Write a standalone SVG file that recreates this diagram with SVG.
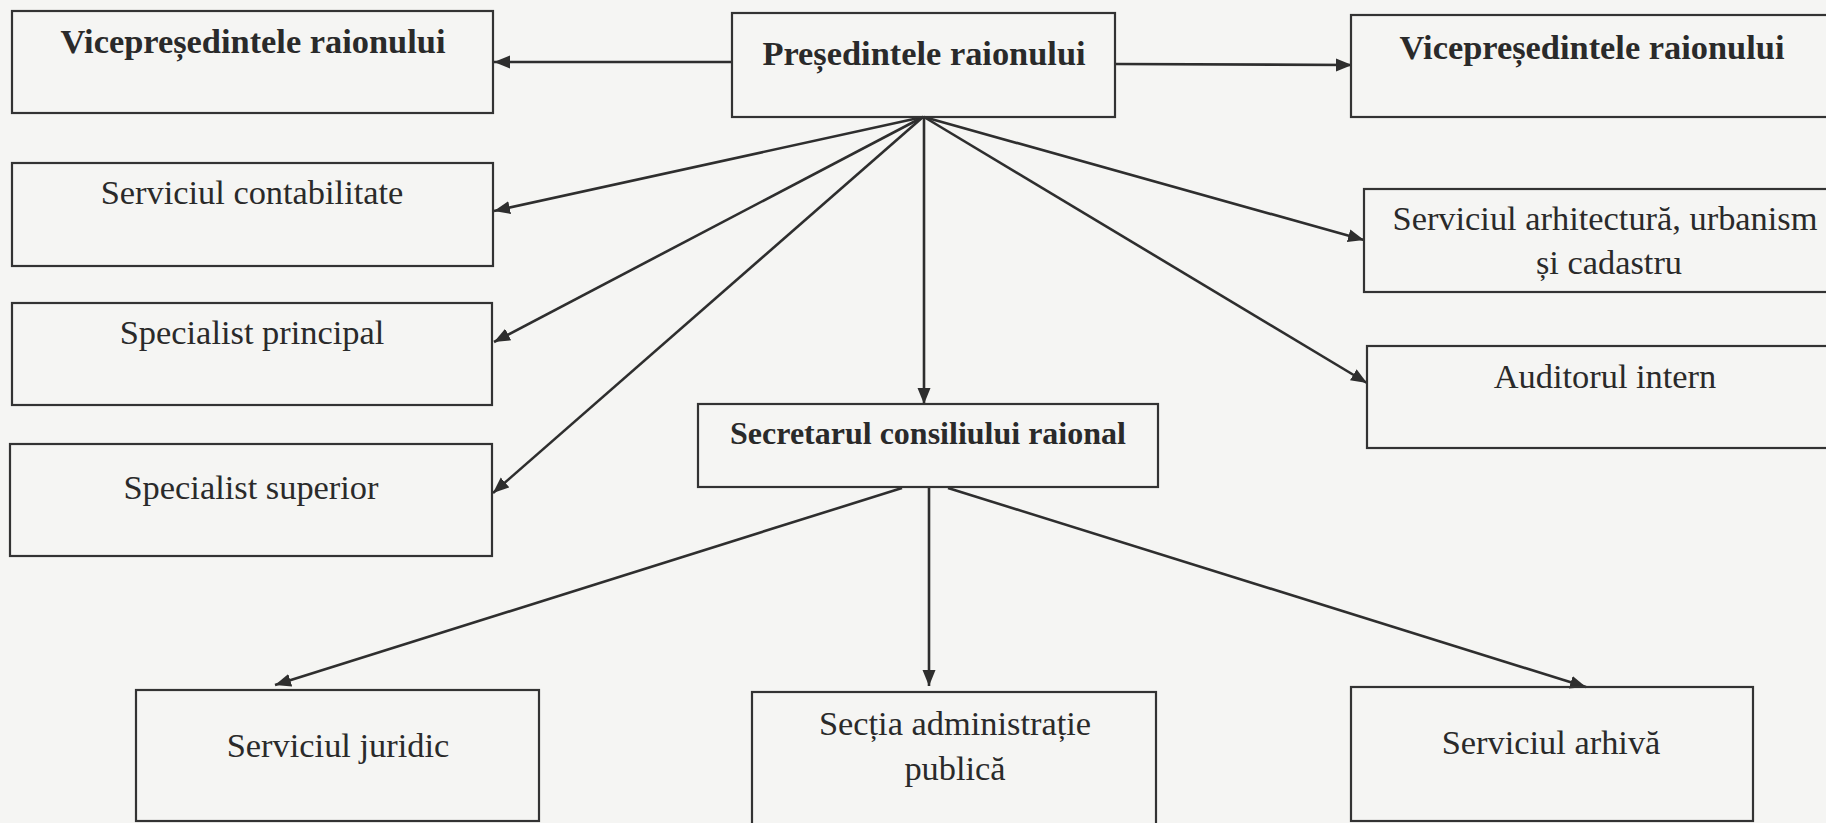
<svg xmlns="http://www.w3.org/2000/svg" width="1826" height="823" viewBox="0 0 1826 823">
<style>
.box{fill:none;stroke:#333;stroke-width:2.2}
.t{font-family:"Liberation Serif","Times New Roman",serif;font-size:34.4px;fill:#2a2a2a;text-anchor:middle}
.b{font-weight:bold}
.s{font-size:32px}
.c{stroke:#2e2e2e;stroke-width:2.6;fill:none;marker-end:url(#ah)}
</style>
<defs>
<marker id="ah" markerUnits="userSpaceOnUse" markerWidth="17" markerHeight="14" refX="16" refY="6.5" orient="auto">
<path d="M0,0 L16,6.5 L0,13 z" fill="#2e2e2e"/>
</marker>
</defs>
<rect x="0" y="0" width="1826" height="823" fill="#f5f5f3"/>
<g id="connectors">
<line class="c" x1="732" y1="62" x2="494" y2="62"/>
<line class="c" x1="1115" y1="64" x2="1352" y2="65"/>
<line class="c" x1="923" y1="117" x2="494" y2="211"/>
<line class="c" x1="923" y1="117" x2="494" y2="342"/>
<line class="c" x1="923" y1="117" x2="493" y2="493"/>
<line class="c" x1="924" y1="117" x2="924" y2="404"/>
<line class="c" x1="924" y1="117" x2="1364" y2="240"/>
<line class="c" x1="924" y1="117" x2="1367" y2="383"/>
<line class="c" x1="902" y1="488" x2="275" y2="685"/>
<line class="c" x1="929" y1="488" x2="929" y2="686"/>
<line class="c" x1="948" y1="488" x2="1586" y2="687"/>
</g>
<g id="vice-left"><rect class="box" x="12" y="11" width="481" height="102"/><text class="t b" x="253" y="53">Vicepreședintele raionului</text></g>
<g id="president"><rect class="box" x="732" y="13" width="383" height="104"/><text class="t b" x="924" y="65">Președintele raionului</text></g>
<g id="vice-right"><rect class="box" x="1351" y="15" width="500" height="102"/><text class="t b" x="1592" y="59">Vicepreședintele raionului</text></g>
<g id="contabilitate"><rect class="box" x="12" y="163" width="481" height="103"/><text class="t" x="252" y="204">Serviciul contabilitate</text></g>
<g id="arhitectura"><rect class="box" x="1364" y="189" width="480" height="103"/><text class="t" x="1605" y="230">Serviciul arhitectură, urbanism</text><text class="t" x="1609" y="274">și cadastru</text></g>
<g id="principal"><rect class="box" x="12" y="303" width="480" height="102"/><text class="t" x="252" y="344">Specialist principal</text></g>
<g id="auditorul"><rect class="box" x="1367" y="346" width="480" height="102"/><text class="t" x="1605" y="388">Auditorul intern</text></g>
<g id="secretarul"><rect class="box" x="698" y="404" width="460" height="83"/><text class="t b s" x="928" y="444">Secretarul consiliului raional</text></g>
<g id="superior"><rect class="box" x="10" y="444" width="482" height="112"/><text class="t" x="251" y="499">Specialist superior</text></g>
<g id="juridic"><rect class="box" x="136" y="690" width="403" height="131"/><text class="t" x="338" y="757">Serviciul juridic</text></g>
<g id="sectia"><rect class="box" x="752" y="692" width="404" height="140"/><text class="t" x="955" y="735">Secția administrație</text><text class="t" x="955" y="780">publică</text></g>
<g id="arhiva"><rect class="box" x="1351" y="687" width="402" height="134"/><text class="t" x="1551" y="754">Serviciul arhivă</text></g>
</svg>
